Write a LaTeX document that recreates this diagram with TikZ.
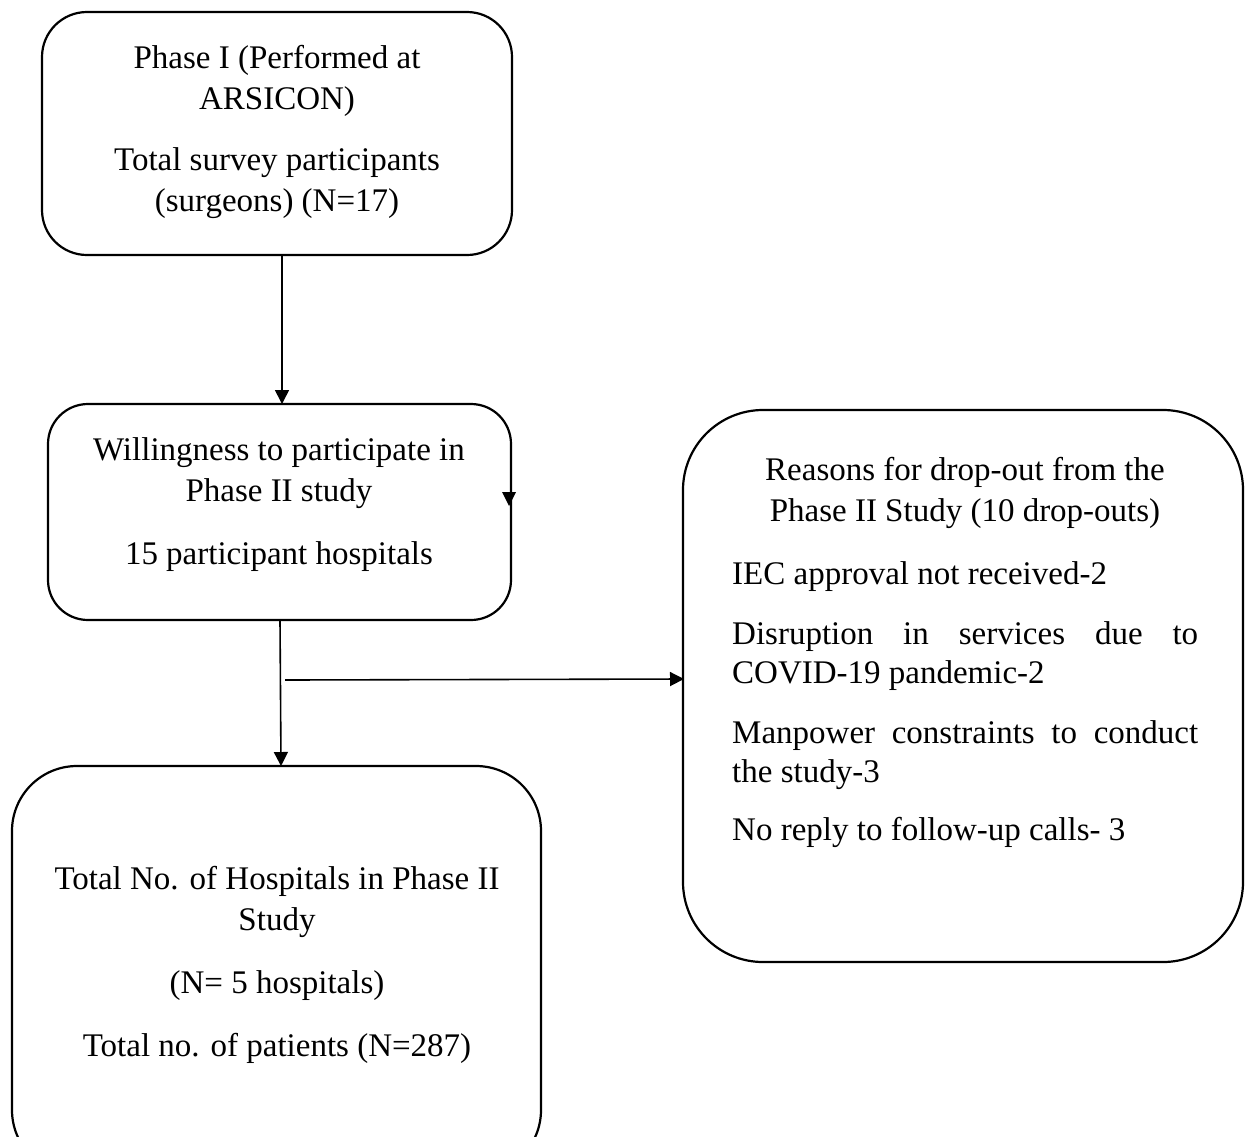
\documentclass[tikz,border=0pt]{standalone}
\usepackage{fontspec}
\setmainfont{Liberation Serif}
\usetikzlibrary{arrows.meta}
\begin{document}
\begin{tikzpicture}[x=1pt,y=-1pt,
  box/.style={draw,line width=2.2pt,rounded corners=#1},
  txt/.style={align=center,inner sep=0pt,font=\fontsize{33}{41}\selectfont},
  conn/.style={line width=1.6pt,-{Triangle[length=14pt,width=14pt]}}]
\useasboundingbox (0,0) rectangle (1245,1136);
% boxes
\draw[box=45pt] (42,12) rectangle (512,255);
\coordinate (b1s) at (282,255);
\draw[box=40pt] (48,404) rectangle (511,620);
\coordinate (b2n) at (282,404);
\coordinate (b2s) at (280,620);
\draw[box=65pt] (12,766) rectangle (541,1175);
\coordinate (b3n) at (281,766);
\draw[box=80pt] (683,410) rectangle (1243,962);
\coordinate (b4w) at (684,679);
% texts
\node[txt] (t1) at (277,132) {Phase I (Performed at\\ARSICON)\\[20pt]Total survey participants\\(surgeons) (N=17)};
\node[txt] (t2) at (279,505) {Willingness to participate in\\Phase II study\\[22pt]15 participant hospitals};
\node[txt] (t3) at (277,965) {Total No. of Hospitals in Phase II\\Study\\[22pt](N= 5 hospitals)\\[22pt]Total no. of patients (N=287)};
\node[txt] (t4) at (965,493) {Reasons for drop-out from the\\Phase II Study (10 drop-outs)};
\node[inner sep=0pt,anchor=north west,text width=466pt,align=justify,font=\fontsize{33}{39}\selectfont] (t5) at (732,561)
 {IEC approval not received-2\par\vspace{21pt}
  Disruption in services due to\linebreak COVID-19 pandemic-2\par\vspace{21pt}
  Manpower constraints to conduct\linebreak the study-3\par\vspace{19pt}
  No reply to follow-up calls- 3};
% connectors
\draw[conn] (b1s) -- (b2n);
\draw[conn] (b2s) -- (b3n);
\coordinate (hstart) at (285,680);
\draw[conn] (hstart) -- (b4w);
\coordinate (sb) at (509,506);
\fill (sb) -- ++(-7,-14) -- ++(14,0) -- cycle;
\end{tikzpicture}
\end{document}
